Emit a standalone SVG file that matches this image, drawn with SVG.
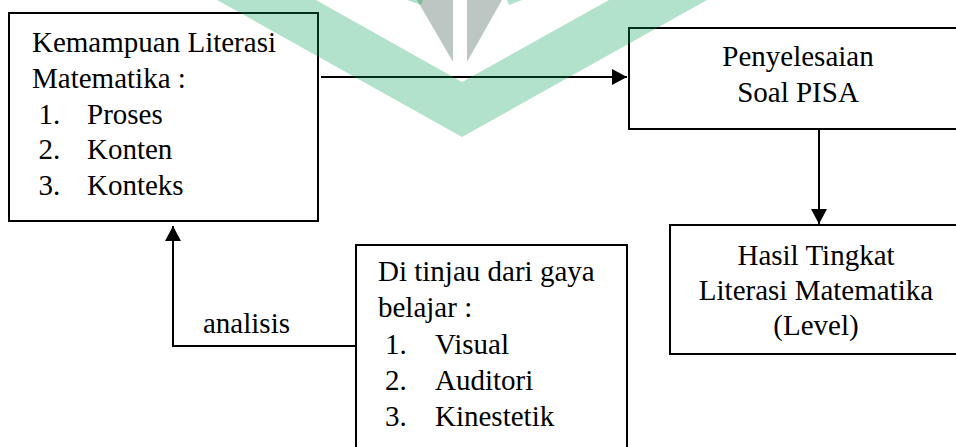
<svg xmlns="http://www.w3.org/2000/svg" width="956" height="447" viewBox="0 0 956 447">
<style>
.box{fill:none;stroke:#000;stroke-width:2}
.t{font-family:"Liberation Serif",Tinos,"Times New Roman",Times,"DejaVu Serif","Noto Serif",serif;font-size:29px;fill:#000}
.c{text-anchor:middle}
.ln{fill:none;stroke:#000;stroke-width:2}
.wg{fill:#009e55;fill-opacity:0.3}
.wy{fill:#204437;fill-opacity:0.3}
</style>
<defs>
<marker id="ah" markerUnits="userSpaceOnUse" markerWidth="16" markerHeight="16" refX="15" refY="8" orient="auto">
<path d="M0,0 L15,8 L0,16 Z" fill="#000"/>
</marker>
</defs>
<rect width="956" height="447" fill="#fff"/>
<g id="node-kemampuan">
<rect class="box" x="9" y="13" width="309" height="208"/>
<text class="t" x="32" y="52">Kemampuan Literasi</text>
<text class="t" x="32" y="88">Matematika :</text>
<text class="t" x="38.5" y="124">1.</text><text class="t" x="87" y="124">Proses</text>
<text class="t" x="38.5" y="159">2.</text><text class="t" x="87" y="159">Konten</text>
<text class="t" x="38.5" y="195">3.</text><text class="t" x="87" y="195">Konteks</text>
</g>
<g id="node-penyelesaian">
<rect class="box" x="629" y="28" width="340" height="101"/>
<text class="t c" x="798" y="66">Penyelesaian</text>
<text class="t c" x="798" y="102">Soal PISA</text>
</g>
<g id="node-hasil">
<rect class="box" x="670" y="225" width="300" height="129"/>
<text class="t c" x="816" y="265">Hasil Tingkat</text>
<text class="t c" x="816" y="300">Literasi Matematika</text>
<text class="t c" x="816" y="335">(Level)</text>
</g>
<g id="node-gaya">
<rect class="box" x="356" y="245" width="271" height="220"/>
<text class="t" x="378" y="281">Di tinjau dari gaya</text>
<text class="t" x="378" y="317">belajar :</text>
<text class="t" x="385" y="354">1.</text><text class="t" x="435" y="354">Visual</text>
<text class="t" x="385" y="390">2.</text><text class="t" x="435" y="390">Auditori</text>
<text class="t" x="385" y="426">3.</text><text class="t" x="435" y="426">Kinestetik</text>
</g>
<g id="connectors">
<path class="ln" d="M321,77 L627,77" marker-end="url(#ah)"/>
<path class="ln" d="M819,129 L819,224" marker-end="url(#ah)"/>
<path class="ln" d="M356,346 L173,346 L173,226" marker-end="url(#ah)"/>
<text class="t" x="203" y="333">analisis</text>
</g>
<g id="watermark">
<polygon class="wg" points="217,0 316,0 462,82 609,0 707,0 462,137"/>
<polygon class="wy" points="417,0 453,0 453,62"/>
<polygon class="wy" points="467,0 502,0 467,62"/>
<polygon class="wg" points="407,0 423,0 421,5"/>
<polygon class="wg" points="507,0 522,0 509,5"/>
</g>
</svg>
